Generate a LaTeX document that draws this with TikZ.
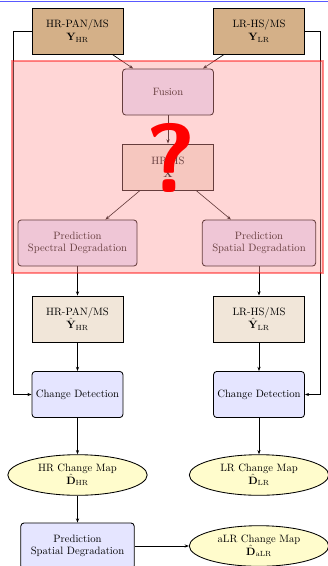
\documentclass[tikz,border=0pt]{standalone}
\usepackage{amsmath}
\usepackage{amssymb}
\usepackage{xcolor}
\usepackage{tikz}
\usetikzlibrary{arrows.meta, positioning, calc, shapes.geometric}

\definecolor{datatan}{RGB}{212,176,136}
\definecolor{esttan}{RGB}{241,230,217}

\tikzset{
  datanode/.style={draw, thick, fill=datatan, minimum width=3cm, minimum height=1.52cm, align=center},
  estnode/.style={datanode, fill=esttan},
  procnode/.style={draw, thick, rounded corners=3pt, fill=blue!10, minimum width=3cm, minimum height=1.52cm, align=center},
  prednode/.style={procnode, inner xsep=0.33cm},
  mapnode/.style={draw, thick, ellipse, fill=yellow!20, minimum width=4.6cm, minimum height=1.34cm, inner sep=0pt, align=center},
  flow/.style={semithick, -{Stealth[length=4pt,width=3pt]}},
}

\begin{document}
\begin{tikzpicture}[x=0.033cm, y=-0.033cm]
  \useasboundingbox (0,0) rectangle (328,566);
  \draw[blue!65, line width=1pt] (0,1.8) -- (328,1.8);

  % Inputs
  \node[datanode] (yhr) at (77.5,31) {HR-PAN/MS\\ $\mathbf{Y}_{\mathrm{HR}}$};
  \node[datanode] (ylr) at (259,31) {LR-HS/MS\\ $\mathbf{Y}_{\mathrm{LR}}$};

  % Hidden part: fusion and predictions
  \node[procnode] (fusion) at (168,92) {Fusion};
  \node[estnode] (xhs) at (168,167) {HR-HS\\ $\mathbf{X}$};
  \node[prednode] (specdeg) at (77.5,243) {Prediction\\ Spectral Degradation};
  \node[prednode] (spatdeg) at (259,243) {Prediction\\ Spatial Degradation};

  % Predicted images
  \node[estnode] (yhrhat) at (77.5,319) {HR-PAN/MS\\ $\hat{\mathbf{Y}}_{\mathrm{HR}}$};
  \node[estnode] (ylrhat) at (259,319) {LR-HS/MS\\ $\hat{\mathbf{Y}}_{\mathrm{LR}}$};

  % Change detection
  \node[procnode] (cdhr) at (77.5,394.5) {Change Detection};
  \node[procnode] (cdlr) at (259,394.5) {Change Detection};
  \node[mapnode] (dhr) at (77.5,475) {HR Change Map\\ $\hat{\mathbf{D}}_{\mathrm{HR}}$};
  \node[mapnode] (dlr) at (259,475) {LR Change Map\\ $\hat{\mathbf{D}}_{\mathrm{LR}}$};
  \node[prednode] (bottomdeg) at (77.5,546) {Prediction\\ Spatial Degradation};
  \node[mapnode] (dalr) at (259,546) {aLR Change Map\\ $\hat{\mathbf{D}}_{\mathrm{aLR}}$};

  % Connections
  \draw[flow] (yhr) -- (fusion);
  \draw[flow] (ylr) -- (fusion);
  \draw[flow] (fusion) -- (xhs);
  \draw[flow] (xhs) -- (specdeg);
  \draw[flow] (xhs) -- (spatdeg);
  \draw[flow] (specdeg) -- (yhrhat);
  \draw[flow] (spatdeg) -- (ylrhat);
  \draw[flow] (yhrhat) -- (cdhr);
  \draw[flow] (ylrhat) -- (cdlr);
  \draw[flow] (yhr.west) -- ++(-18,0) |- (cdhr.west);
  \draw[flow] (ylr.east) -- ++(15,0) |- (cdlr.east);
  \draw[flow] (cdhr) -- (dhr);
  \draw[flow] (cdlr) -- (dlr);
  \draw[flow] (dhr) -- (bottomdeg);
  \draw[flow] (bottomdeg) -- (dalr);

  % Red veil over the unknown part
  \fill[red!40, opacity=0.4] (12,61) rectangle (323,273);
  \draw[red, opacity=0.45, line width=1.5pt] (12,61) rectangle (323,273);
  \node[text=red, font=\sffamily\bfseries\fontsize{92}{92}\selectfont, inner sep=0pt] (qmark) at (171,158) {?};
\end{tikzpicture}
\end{document}
